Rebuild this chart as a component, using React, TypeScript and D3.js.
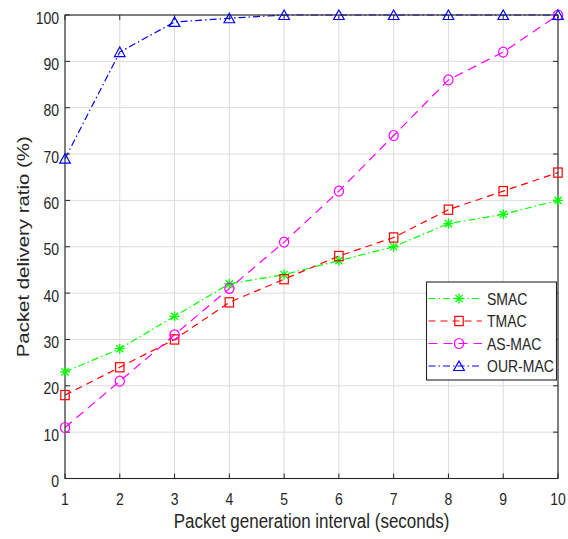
import React from "react";
import * as d3 from "d3";

const INTERVALS = [1, 2, 3, 4, 5, 6, 7, 8, 9, 10];
const SMAC = [23, 28, 35, 42, 44, 47, 50, 55, 57, 60];
const TMAC = [18, 24, 30, 38, 43, 48, 52, 58, 62, 66];
const ASMAC = [11, 21, 31, 41, 51, 62, 74, 86, 92, 100];
const OURMAC = [69, 92, 98.5, 99.3, 100, 100, 100, 100, 100, 100];
const Y_TICKS = [0, 10, 20, 30, 40, 50, 60, 70, 80, 90, 100];
const X_TICKS = [1, 2, 3, 4, 5, 6, 7, 8, 9, 10];
const SERIES_NAMES = ["SMAC", "TMAC", "AS-MAC", "OUR-MAC"];

const W = 568;
const H = 539;
const L = 65, R = 558, T = 15, B = 478.5;
const FONT = "'Liberation Sans', Arial, Helvetica, sans-serif";
const AX = "#262626";
const GRID = "#dcdcdc";
const SY = 1.15;

type Marker = "star" | "square" | "circle" | "triangle";
interface Series { name: string; values: number[]; color: string; dash: string; marker: Marker; }

const series: Series[] = [
  { name: SERIES_NAMES[0], values: SMAC, color: "#00ff00", dash: "7,3,1.5,3", marker: "star" },
  { name: SERIES_NAMES[1], values: TMAC, color: "#ff0000", dash: "7,5", marker: "square" },
  { name: SERIES_NAMES[2], values: ASMAC, color: "#ff00ff", dash: "9,6", marker: "circle" },
  { name: SERIES_NAMES[3], values: OURMAC, color: "#0000ff", dash: "7,3,1.5,3", marker: "triangle" },
];

function MarkerShape({ type, x, y, color }: { type: Marker; x: number; y: number; color: string }) {
  const sw = 1.2;
  if (type === "circle") return <ellipse cx={x} cy={y} rx={4.6} ry={5} fill="none" stroke={color} strokeWidth={sw} />;
  if (type === "square") return <rect x={x - 4.2} y={y - 4.6} width={8.4} height={9.2} fill="none" stroke={color} strokeWidth={sw} />;
  if (type === "triangle") {
    const p = `M${x},${y - 5} L${x + 5.3},${y + 4.5} L${x - 5.3},${y + 4.5} Z`;
    return <path d={p} fill="none" stroke={color} strokeWidth={sw} />;
  }
  const r = 5, d = 3.6;
  const p = `M${x - r},${y} L${x + r},${y} M${x},${y - r} L${x},${y + r} M${x - d},${y - d} L${x + d},${y + d} M${x - d},${y + d} L${x + d},${y - d}`;
  return <path d={p} fill="none" stroke={color} strokeWidth={1.3} />;
}

function SText({ x, y, children, anchor = "start", size = 14, fill = AX }: any) {
  return (
    <text transform={`translate(${x},${y}) scale(1,${SY})`} textAnchor={anchor} fontSize={size} fontFamily={FONT} fill={fill}>
      {children}
    </text>
  );
}

export default function App() {
  const x = d3.scaleLinear().domain([1, 10]).range([L, R]);
  const y = d3.scaleLinear().domain([0, 100]).range([B, T]);
  const line = d3.line<number>().x((_, i) => x(INTERVALS[i])).y((v) => y(v));

  const legX = 426.5, legY = 282, legW = 130, legH = 98;
  const rowY0 = 298.5, rowDy = 22.5;

  return (
    <svg width={W} height={H} style={{ position: "absolute", left: 0, top: 0, background: "#fff" }}>
      <rect x={0} y={0} width={W} height={H} fill="#fff" />
      {/* grid */}
      {X_TICKS.map((t) => (
        <line key={"gx" + t} x1={x(t)} x2={x(t)} y1={T} y2={B} stroke={GRID} strokeWidth={1} />
      ))}
      {Y_TICKS.map((t) => (
        <line key={"gy" + t} x1={L} x2={R} y1={y(t)} y2={y(t)} stroke={GRID} strokeWidth={1} />
      ))}
      {/* series lines */}
      {series.map((s) => (
        <path key={s.name} d={line(s.values) || ""} fill="none" stroke={s.color} strokeWidth={1.2} strokeDasharray={s.dash} />
      ))}
      {/* axes box */}
      <rect x={L} y={T} width={R - L} height={B - T} fill="none" stroke={AX} strokeWidth={1.1} />
      {X_TICKS.map((t) => (
        <g key={"tx" + t}>
          <line x1={x(t)} x2={x(t)} y1={B} y2={B - 5} stroke={AX} strokeWidth={1} />
          <line x1={x(t)} x2={x(t)} y1={T} y2={T + 5} stroke={AX} strokeWidth={1} />
          <SText x={x(t)} y={505} anchor="middle">{t}</SText>
        </g>
      ))}
      {Y_TICKS.map((t) => (
        <g key={"ty" + t}>
          <line x1={L} x2={L + 5} y1={y(t)} y2={y(t)} stroke={AX} strokeWidth={1} />
          <line x1={R} x2={R - 5} y1={y(t)} y2={y(t)} stroke={AX} strokeWidth={1} />
          <SText x={59} y={y(t) + 8.5} anchor="end">{t}</SText>
        </g>
      ))}
      {/* markers */}
      {series.map((s) => (
        <g key={"m" + s.name}>
          {s.values.map((v, i) => (
            <MarkerShape key={i} type={s.marker} x={x(INTERVALS[i])} y={y(v)} color={s.color} />
          ))}
        </g>
      ))}
      {/* axis labels */}
      <SText x={(L + R) / 2} y={527.5} anchor="middle" size={17}>Packet generation interval (seconds)</SText>
      <text transform={`translate(29,${(T + B) / 2}) rotate(-90) scale(1.2,1)`} textAnchor="middle" fontSize={17} fontFamily={FONT} fill={AX}>
        Packet delivery ratio (%)
      </text>
      {/* legend */}
      <rect x={legX} y={legY} width={legW} height={legH} fill="#fff" stroke={AX} strokeWidth={1.1} />
      {series.map((s, i) => {
        const cy = rowY0 + i * rowDy;
        return (
          <g key={"l" + s.name}>
            <line x1={428.5} x2={482} y1={cy} y2={cy} stroke={s.color} strokeWidth={1.2} strokeDasharray={s.dash} />
            <MarkerShape type={s.marker} x={459} y={cy} color={s.color} />
            <SText x={487} y={cy + 6} size={14}>{s.name}</SText>
          </g>
        );
      })}
    </svg>
  );
}
